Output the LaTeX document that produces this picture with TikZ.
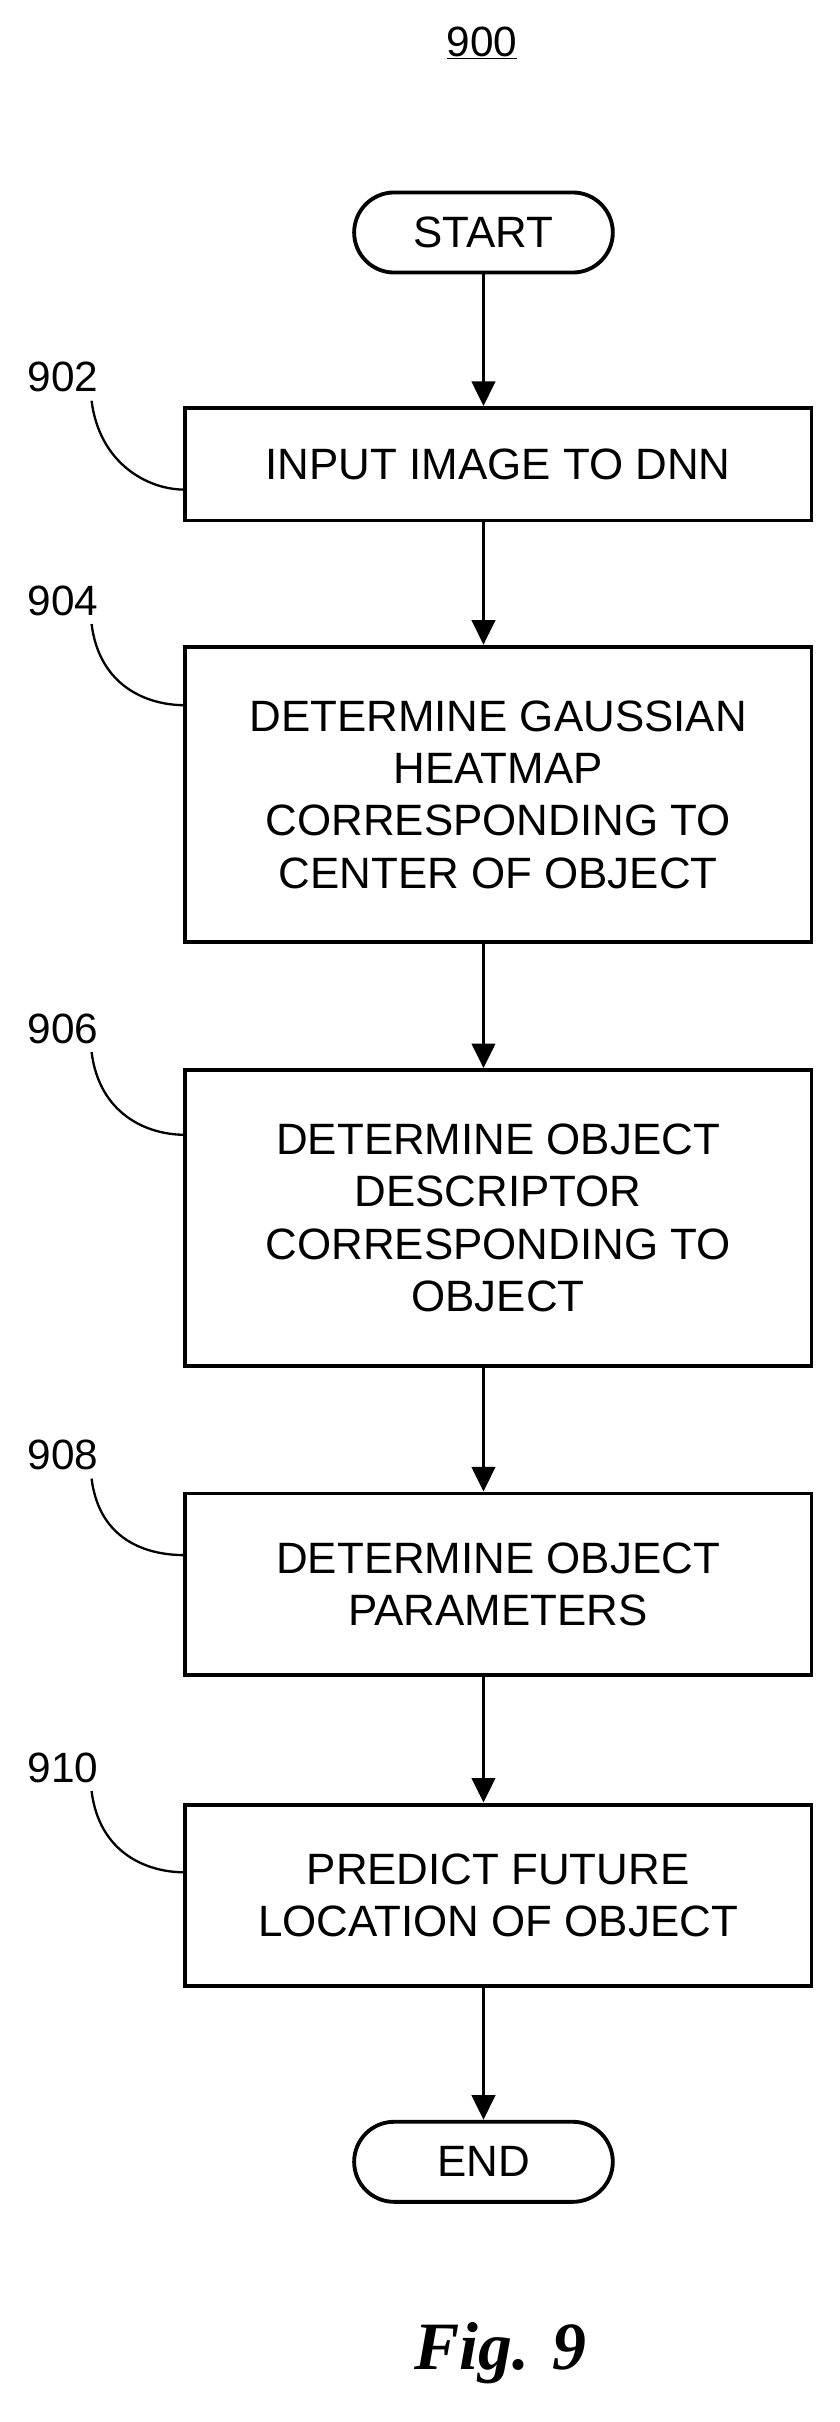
\documentclass[tikz,border=0pt]{standalone}
\usepackage{fontspec}
\setmainfont{Liberation Sans}
\newfontfamily\figfont{Liberation Serif}
\usetikzlibrary{arrows.meta}
\begin{document}
\begin{tikzpicture}[x=1pt,y=1pt,
	box/.style={draw, line width=2.5pt, minimum width=407pt, align=center, font=\fontsize{28.5}{34}\selectfont, inner sep=0pt},
	term/.style={draw, line width=2.5pt, rounded corners=26pt, minimum width=168pt, minimum height=52pt, font=\fontsize{28.5}{34}\selectfont},
	flow/.style={line width=2.5pt, -{Triangle[length=16pt,width=15pt]}},
	lead/.style={line width=1.5pt},
	num/.style={font=\fontsize{27.5}{32}\selectfont}]
	\useasboundingbox (0,0) rectangle (545,-1573);
	\node [num] (title) at (313,-28) {\underline{900}};
	\node [term] (start) at (314,-151) {START};
	\node [box, minimum height=73pt] (s902) at (323.5,-301.5) {INPUT IMAGE TO DNN};
	\node [box, minimum height=192pt] (s904) at (323.5,-516) {DETERMINE GAUSSIAN\\HEATMAP\\CORRESPONDING TO\\CENTER OF OBJECT};
	\node [box, minimum height=192pt] (s906) at (323.5,-791) {DETERMINE OBJECT\\DESCRIPTOR\\CORRESPONDING TO\\OBJECT};
	\node [box, minimum height=118pt] (s908) at (323.5,-1029) {DETERMINE OBJECT\\PARAMETERS};
	\node [box, minimum height=118pt] (s910) at (323.5,-1231) {PREDICT FUTURE\\LOCATION OF OBJECT};
	\node [term] (end) at (314,-1404) {END};
	\node [font=\figfont\bfseries\itshape\fontsize{44}{48}\selectfont] (fig) at (325,-1528) {Fig. 9};
	% flow arrows
	\draw [flow] (start) -- (start|-s902.north);
	\draw [flow] (s902.south-|start) -- (start|-s904.north);
	\draw [flow] (s904.south-|start) -- (start|-s906.north);
	\draw [flow] (s906.south-|start) -- (start|-s908.north);
	\draw [flow] (s908.south-|start) -- (start|-s910.north);
	\draw [flow] (s910.south-|start) -- (end);
	% reference numerals
	\foreach \n/\y/\t in {902/-245/-318, 904/-390/-458, 906/-668/-737, 908/-945/-1010, 910/-1148/-1216}{
		\node [num] (n\n) at (41,\y) {\n};
		\draw [lead] (n\n.south east) ++(-8,-2) .. controls +(5,-40) and (95,\t) .. (120,\t);
	}
\end{tikzpicture}
\end{document}
